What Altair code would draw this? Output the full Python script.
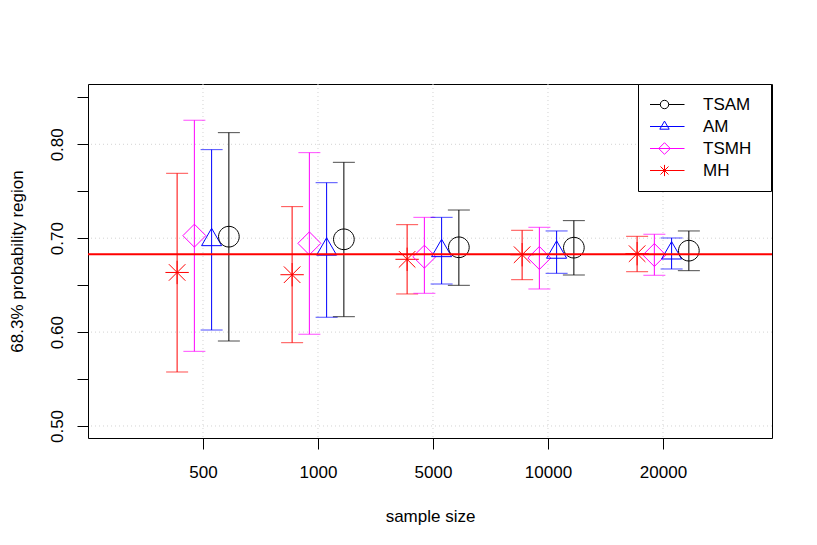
import json
import altair as alt
import pandas as pd

# ---------------- data ----------------
sample_sizes = ["500", "1000", "5000", "10000", "20000"]
methods = ["MH", "TSMH", "AM", "TSAM"]
legend_order = ["TSAM", "AM", "TSMH", "MH"]

mh_est = [0.6635, 0.6611, 0.6775, 0.6824, 0.6835]
mh_lo = [0.5575, 0.5887, 0.6406, 0.6558, 0.6643]
mh_hi = [0.7691, 0.7336, 0.7144, 0.7084, 0.7020]

tsmh_est = [0.7027, 0.6945, 0.6803, 0.6789, 0.6821]
tsmh_lo = [0.5795, 0.5977, 0.6413, 0.6459, 0.6605]
tsmh_hi = [0.8256, 0.7911, 0.7222, 0.7116, 0.7042]

am_est = [0.6982, 0.6881, 0.6865, 0.6848, 0.6840]
am_lo = [0.6022, 0.6158, 0.6512, 0.6626, 0.6672]
am_hi = [0.7943, 0.7591, 0.7222, 0.7077, 0.7002]

tsam_est = [0.7016, 0.6988, 0.6903, 0.6899, 0.6867]
tsam_lo = [0.5905, 0.6164, 0.6498, 0.6608, 0.6654]
tsam_hi = [0.8124, 0.7808, 0.7300, 0.7187, 0.7077]

reference_level = [0.683]
y_tick_values = [0.50, 0.55, 0.60, 0.65, 0.70, 0.75, 0.80, 0.85]
y_grid_values = [0.50, 0.60, 0.70, 0.80]

# ---------------- styles ----------------
FONT = "Liberation Sans"
color_map = {"MH": "#FF0000", "TSMH": "#FF00FF", "AM": "#0000FF", "TSAM": "#000000"}
dodge = {"MH": -0.225, "TSMH": -0.075, "AM": 0.075, "TSAM": 0.225}

point_paths = {
    "TSAM": "M1,0A1,1,0,1,1,-1,0A1,1,0,1,1,1,0Z",
    "AM": "M0,-1.12L0.97,0.56L-0.97,0.56Z",
    "TSMH": "M0,-1.11L1.11,0L0,1.11L-1.11,0Z",
    "MH": "M-1.13,0L1.13,0M0,-1.13L0,1.13M-0.8,-0.8L0.8,0.8M-0.8,0.8L0.8,-0.8",
}
legend_paths = {
    "TSAM": "M-1.3,0L-0.51,0M-0.09,0L0.7,0M-0.09,0A0.21,0.21,0,1,1,-0.51,0A0.21,0.21,0,1,1,-0.09,0Z",
    "AM": "M-1.3,0L0.7,0M-0.3,-0.27L-0.066,0.135L-0.534,0.135Z",
    "TSMH": "M-1.3,0L0.7,0M-0.3,-0.29L-0.01,0L-0.3,0.29L-0.59,0Z",
    "MH": "M-1.3,0L0.7,0M-0.58,0L-0.02,0M-0.3,-0.28L-0.3,0.28M-0.5,-0.2L-0.1,0.2M-0.5,0.2L-0.1,-0.2",
}

series = {
    "MH": (mh_est, mh_lo, mh_hi),
    "TSMH": (tsmh_est, tsmh_lo, tsmh_hi),
    "AM": (am_est, am_lo, am_hi),
    "TSAM": (tsam_est, tsam_lo, tsam_hi),
}

rows = []
for m in methods:
    est, lo, hi = series[m]
    for i, s in enumerate(sample_sizes):
        rows.append({"method": m, "size": s, "idx": i + 1,
                     "pos": i + 1 + dodge[m], "est": est[i], "lo": lo[i], "hi": hi[i]})
df = pd.DataFrame(rows)
grid_x_df = pd.DataFrame({"idx": list(range(1, len(sample_sizes) + 1))})
grid_y_df = pd.DataFrame({"g": y_grid_values})
ref_df = pd.DataFrame({"ref": reference_level})

# ---------------- scales & axes ----------------
x_scale = alt.Scale(domain=[0, 5.948], nice=False, zero=False)
y_scale = alt.Scale(domain=[0.4872, 0.8642], nice=False, zero=False)

x_axis = alt.Axis(
    values=list(range(1, len(sample_sizes) + 1)),
    labelExpr=json.dumps(sample_sizes) + "[datum.value - 1]",
    grid=False, domain=False, ticks=True, tickSize=11, tickColor="black",
    labelFont=FONT, labelFontSize=17, labelColor="black",
    labelBaseline="alphabetic", labelPadding=28, labelFlush=False, labelOverlap=False,
    titleFont=FONT, titleFontSize=17, titleFontWeight="normal", titleColor="black",
    titleBaseline="alphabetic", titleAlign="center", titleX=342, titleY=83,
)
y_axis = alt.Axis(
    values=y_tick_values,
    labelExpr="round(datum.value * 100) % 10 == 0 ? format(datum.value, '.2f') : ''",
    grid=False, domain=False, ticks=True, tickSize=11, tickColor="black",
    labelFont=FONT, labelFontSize=17, labelColor="black",
    labelAngle=270, labelAlign="center", labelBaseline="alphabetic", labelPadding=15,
    labelOverlap=False, labelFlush=False,
    titleFont=FONT, titleFontSize=17, titleFontWeight="normal", titleColor="black",
    titleAngle=270, titleBaseline="alphabetic", titleAlign="center", titleX=-66, titleY=177,
)


def X(field):
    return alt.X(f"{field}:Q", scale=x_scale, axis=x_axis, title="sample size")


def Y(field):
    return alt.Y(f"{field}:Q", scale=y_scale, axis=y_axis, title="68.3% probability region")


color_enc = alt.Color("method:N", scale=alt.Scale(domain=methods, range=[color_map[m] for m in methods]),
                      legend=None)

grid_v = alt.Chart(grid_x_df).mark_rule(color="#D3D3D3", strokeWidth=1, strokeDash=[1, 3]).encode(x=X("idx"))
grid_h = alt.Chart(grid_y_df).mark_rule(color="#D3D3D3", strokeWidth=1, strokeDash=[1, 3]).encode(y=Y("g"))

bars = alt.Chart(df).mark_rule(strokeWidth=1).encode(x=X("pos"), y=Y("lo"), y2="hi:Q", color=color_enc)
cap_lo = alt.Chart(df).mark_tick(orient="horizontal", size=22, thickness=1).encode(
    x=X("pos"), y=Y("lo"), color=color_enc)
cap_hi = alt.Chart(df).mark_tick(orient="horizontal", size=22, thickness=1).encode(
    x=X("pos"), y=Y("hi"), color=color_enc)

points = alt.Chart(df).mark_point(filled=False, size=428, strokeWidth=1, opacity=1).encode(
    x=X("pos"), y=Y("est"), color=color_enc,
    shape=alt.Shape("method:N", scale=alt.Scale(domain=methods, range=[point_paths[m] for m in methods]),
                    legend=None),
)

ref_line = alt.Chart(ref_df).mark_rule(color="#FF0000", strokeWidth=2).encode(y=Y("ref"))

legend_def = alt.Legend(
    title="\u00a0", titleOrient="right", titlePadding=8, titleFontSize=4,
    orient="none", legendX=550, legendY=0,
    padding=12, rowPadding=4, labelOffset=12, clipHeight=17,
    labelFont=FONT, labelFontSize=17, labelColor="black",
    strokeColor="black", fillColor="white", cornerRadius=0,
    symbolSize=1600, symbolStrokeWidth=1, symbolFillColor="transparent",
)
legend_layer = alt.Chart(df).transform_filter("false").mark_point(
    filled=False, size=1600, strokeWidth=1, opacity=1).encode(
    x=X("pos"), y=Y("est"),
    color=alt.Color("method:N", scale=alt.Scale(domain=legend_order,
                                                range=[color_map[m] for m in legend_order]),
                    legend=legend_def),
    shape=alt.Shape("method:N", scale=alt.Scale(domain=legend_order,
                                                range=[legend_paths[m] for m in legend_order]),
                    legend=legend_def),
)

chart = alt.layer(grid_v, grid_h, bars, cap_lo, cap_hi, points, ref_line, legend_layer).resolve_scale(
    color="independent", shape="independent"
).properties(
    width=684, height=354,
    padding={"left": 80, "top": 76, "right": 37, "bottom": 99},
    autosize=alt.AutoSizeParams(type="none"),
    background="white",
).configure(font=FONT).configure_view(stroke="black", strokeWidth=1)

chart.save("out.html", embed_options={"renderer": "svg", "actions": False})
